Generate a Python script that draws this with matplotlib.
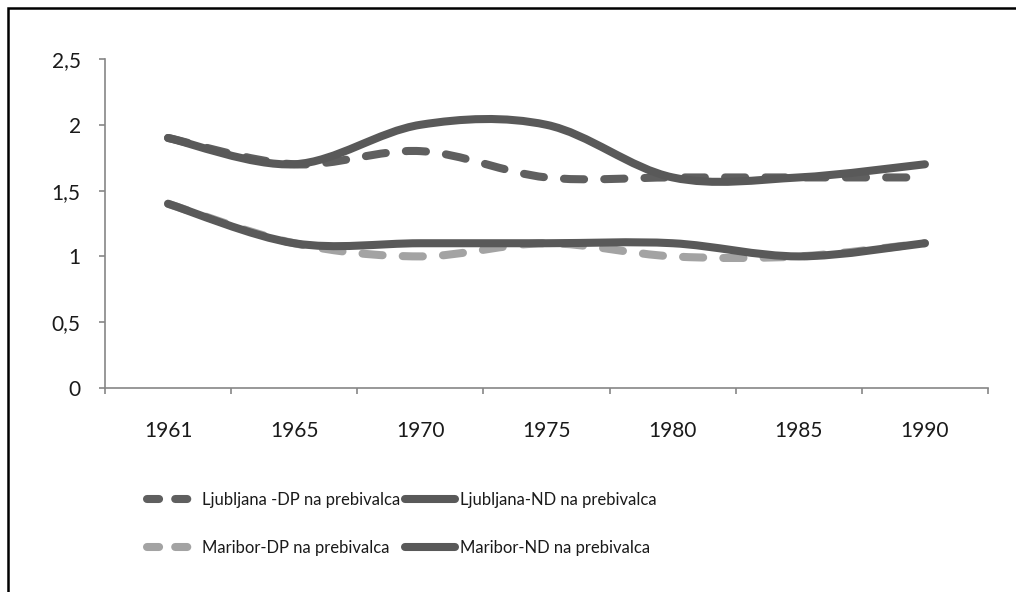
import numpy as np
import matplotlib
matplotlib.use("Agg")
import matplotlib.pyplot as plt
from matplotlib.path import Path
from matplotlib.patches import PathPatch, Rectangle
from matplotlib.lines import Line2D

# podatki
years = ['1961', '1965', '1970', '1975', '1980', '1985', '1990']
lj_dp = [1.9, 1.7, 1.8, 1.6, 1.6, 1.6, 1.6]
lj_nd = [1.9, 1.7, 2.0, 2.0, 1.6, 1.6, 1.7]
mb_dp = [1.4, 1.1, 1.0, 1.1, 1.0, 1.0, 1.1]
mb_nd = [1.4, 1.1, 1.1, 1.1, 1.1, 1.0, 1.1]
labels = ['Ljubljana -DP na prebivalca', 'Ljubljana-ND na prebivalca',
          'Maribor-DP na prebivalca', 'Maribor-ND na prebivalca']
yticks = [0, 0.5, 1, 1.5, 2, 2.5]
ytick_labels = ['0', '0,5', '1', '1,5', '2', '2,5']

dark = '#595959'
dark_dash = '#5f5f5f'
light = '#a3a3a3'
axis_col = '#868686'
lw = 5.8


def smooth_path(y):
    # glajenje kot v Excelu: Bezier s Catmull-Rom tangentami
    x = np.arange(len(y), dtype=float)
    y = np.asarray(y, dtype=float)
    verts = [(x[0], y[0])]
    codes = [Path.MOVETO]
    n = len(y)
    for i in range(n - 1):
        p0 = max(i - 1, 0)
        p3 = min(i + 2, n - 1)
        c1 = (x[i] + (x[i + 1] - x[p0]) / 6, y[i] + (y[i + 1] - y[p0]) / 6)
        c2 = (x[i + 1] - (x[p3] - x[i]) / 6, y[i + 1] - (y[p3] - y[i]) / 6)
        verts += [c1, c2, (x[i + 1], y[i + 1])]
        codes += [Path.CURVE4] * 3
    return Path(verts, codes)


fig = plt.figure(figsize=(10.16, 5.92), dpi=100)
ax = fig.add_axes([105 / 1016, 1 - 388 / 592, 883 / 1016, 329 / 592])

series = [
    (lj_dp, dark_dash, (0, (2.5, 2.5))),
    (lj_nd, dark, '-'),
    (mb_dp, light, (0, (2.5, 2.5))),
    (mb_nd, dark, '-'),
]
for vals, col, ls in series:
    p = PathPatch(smooth_path(vals), fill=False, edgecolor=col, lw=lw,
                  linestyle=ls, capstyle='round', joinstyle='round')
    ax.add_patch(p)

ax.set_xlim(-0.5, len(years) - 0.5)
ax.set_ylim(0, 2.5)

for s in ['top', 'right']:
    ax.spines[s].set_visible(False)
for s in ['left', 'bottom']:
    ax.spines[s].set_color(axis_col)
    ax.spines[s].set_linewidth(1.2)

ax.set_yticks(yticks)
ax.set_yticklabels(ytick_labels, fontfamily='Lato', fontsize=15, color='#1a1a1a')
ax.tick_params(axis='y', direction='out', length=4.5, width=1.2, color=axis_col, pad=13)

ax.set_xticks(np.arange(len(years) + 1) - 0.5)
ax.set_xticklabels([])
ax.set_xticks(np.arange(len(years)), minor=True)
ax.set_xticklabels(years, minor=True, fontfamily='Lato', fontsize=15, color='#1a1a1a')
ax.tick_params(axis='x', which='major', direction='out', length=4.5, width=1.2, color=axis_col)
ax.tick_params(axis='x', which='minor', length=0, pad=24)

handles = [
    Line2D([], [], color=dark_dash, lw=lw, linestyle=(0, (1.5, 2.0)), dash_capstyle='round'),
    Line2D([], [], color=dark, lw=lw, solid_capstyle='round'),
    Line2D([], [], color=light, lw=lw, linestyle=(0, (1.5, 2.0)), dash_capstyle='round'),
    Line2D([], [], color=dark, lw=lw, solid_capstyle='round'),
]
# vrstni red za dva stolpca
order = [0, 2, 1, 3]
leg = fig.legend([handles[i] for i in order], [labels[i] for i in order],
                 ncol=2, loc='center', bbox_to_anchor=(402 / 1016, 1 - 524 / 592),
                 frameon=False, handlelength=3.0, handletextpad=0.3,
                 columnspacing=0.3, labelspacing=1.95,
                 prop={'family': 'Lato', 'size': 12})
for t in leg.get_texts():
    t.set_color('#1a1a1a')

fig.patches.append(Rectangle((8 / 1016, -0.1), 1.2, 1 - 8 / 592 + 0.1,
                             transform=fig.transFigure, fill=False,
                             edgecolor='black', lw=1.8))

fig.savefig('out.png', dpi=100)
